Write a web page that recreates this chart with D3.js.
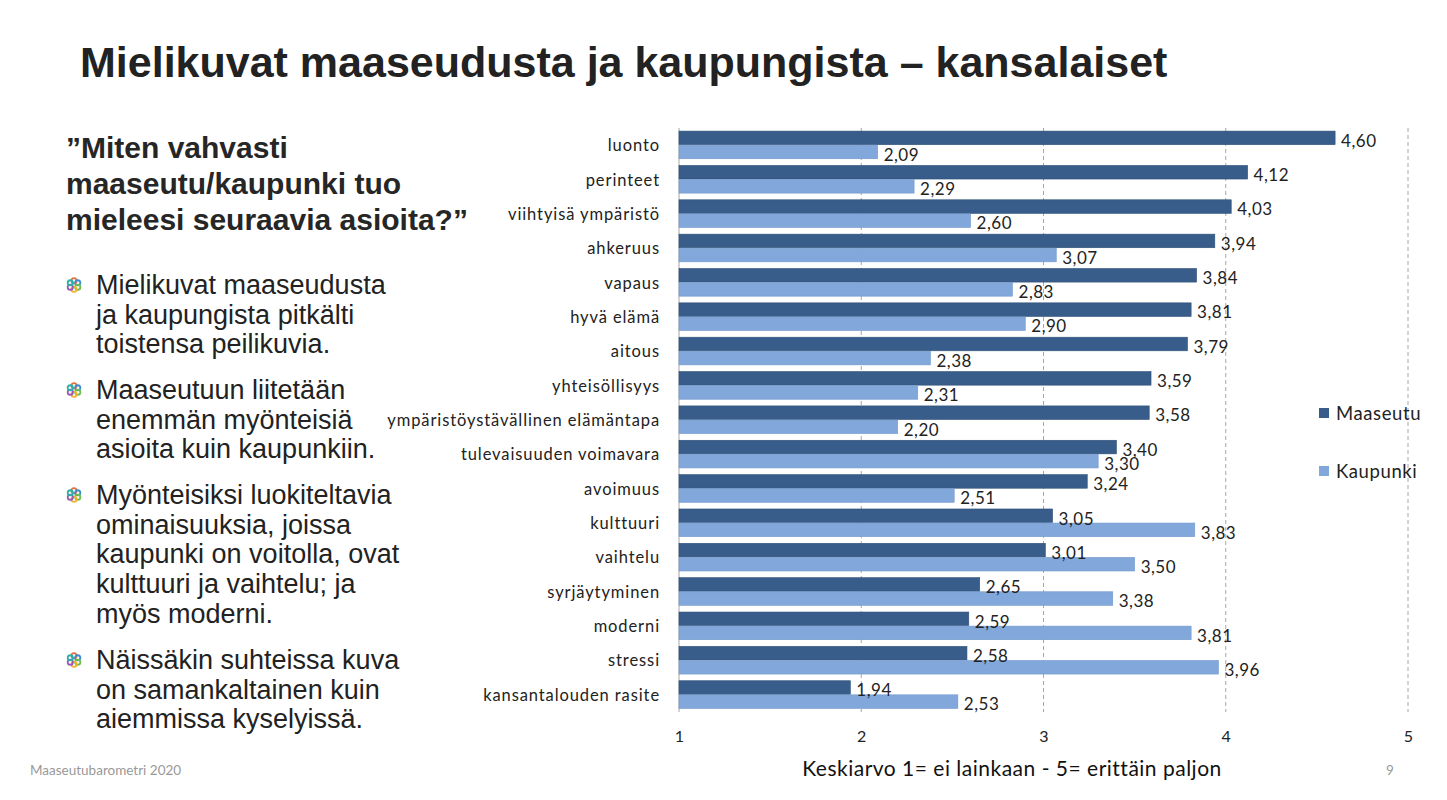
<!DOCTYPE html>
<html><head><meta charset="utf-8">
<script src="https://cdn.jsdelivr.net/npm/d3@7"></script>
<style>body{margin:0;background:#fff}svg{display:block}</style>
</head><body><svg id="c" width="1447" height="800"></svg>
<script>
const categories = ["luonto","perinteet","viihtyisä ympäristö","ahkeruus","vapaus","hyvä elämä","aitous","yhteisöllisyys","ympäristöystävällinen elämäntapa","tulevaisuuden voimavara","avoimuus","kulttuuri","vaihtelu","syrjäytyminen","moderni","stressi","kansantalouden rasite"];
const maaseutu = [4.60,4.12,4.03,3.94,3.84,3.81,3.79,3.59,3.58,3.40,3.24,3.05,3.01,2.65,2.59,2.58,1.94];
const kaupunki = [2.09,2.29,2.60,3.07,2.83,2.90,2.38,2.31,2.20,3.30,2.51,3.83,3.50,3.38,3.81,3.96,2.53];
const seriesNames = ["Maaseutu","Kaupunki"];
const xTicks = [1,2,3,4,5];
const title = "Mielikuvat maaseudusta ja kaupungista – kansalaiset";
const question = ["”Miten vahvasti","maaseutu/kaupunki tuo","mieleesi seuraavia asioita?”"];
const bullets = [["Mielikuvat maaseudusta","ja kaupungista pitkälti","toistensa peilikuvia."],["Maaseutuun liitetään","enemmän myönteisiä","asioita kuin kaupunkiin."],["Myönteisiksi luokiteltavia","ominaisuuksia, joissa","kaupunki on voitolla, ovat","kulttuuri ja vaihtelu; ja","myös moderni."],["Näissäkin suhteissa kuva","on samankaltainen kuin","aiemmissa kyselyissä."]];
const axisTitle = "Keskiarvo 1= ei lainkaan - 5= erittäin paljon";
const footer = "Maaseutubarometri 2020";
const pageNo = "9";

const colors = ["#385d8a","#81a7db"];
const svg = d3.select("#c");
const fmt = v => v.toFixed(2).replace(".", ",");
const cf = "Lato, Open Sans, sans-serif";

// title
svg.append("text").attr("x",80).attr("y",77).attr("font-family","Liberation Sans, Arial").attr("font-weight","bold").attr("font-size",43).attr("fill","#222").text(title);

// question
question.forEach((l,i)=>svg.append("text").attr("x",66).attr("y",158+i*36).attr("font-family","Liberation Sans, Arial").attr("font-weight","bold").attr("font-size",30).attr("fill","#262626").text(l));

// bullets
const bulletStarts=[294,399,504,669];
const icol=["#e8703a","#3d8ed0","#6fbf4a","#f3b233","#9b59b6","#2bb0a8"];
bullets.forEach((b,bi)=>{
  b.forEach((l,i)=>svg.append("text").attr("x",96).attr("y",bulletStarts[bi]+i*29.7).attr("font-family","Liberation Sans, Arial").attr("font-size",27).attr("fill","#222").text(l));
  const cy=bulletStarts[bi]-9, cx=74;
  for(let k=0;k<6;k++){const a=k*Math.PI/3-Math.PI/2;svg.append("circle").attr("cx",cx+4.3*Math.cos(a)).attr("cy",cy+4.3*Math.sin(a)).attr("r",2.6).attr("fill","none").attr("stroke",icol[k]).attr("stroke-width",1.8);}
});

// chart
const x = d3.scaleLinear().domain([1,5]).range([679,1408]);
const y = d3.scaleBand().domain(categories).range([128,712]).paddingInner(0.18).paddingOuter(0.09);
const ys = d3.scaleBand().domain(seriesNames).range([0,y.bandwidth()]);

const g=svg.append("g");
xTicks.forEach(t=>{
  g.append("line").attr("x1",x(t)).attr("x2",x(t)).attr("y1",128).attr("y2",712).attr("stroke","#a6a6a6").attr("stroke-width",1).attr("stroke-dasharray",t===1?null:"4,3");
});
const xAxis=d3.axisBottom(x).tickValues(xTicks).tickSize(0).tickPadding(0).tickFormat(d3.format("d"));
const ax=svg.append("g").attr("transform","translate(0,731)").call(xAxis);
ax.select(".domain").remove();
ax.selectAll("text").attr("font-family",cf).attr("font-size",16).attr("fill","#222");

const data=categories.map((c,i)=>({c,vals:[maaseutu[i],kaupunki[i]]}));
const rows=g.selectAll(".row").data(data).join("g").attr("transform",d=>`translate(0,${y(d.c)})`);
rows.selectAll("rect").data(d=>d.vals.map((v,k)=>({v,k}))).join("rect")
  .attr("x",x(1)).attr("y",d=>ys(seriesNames[d.k])).attr("height",ys.bandwidth()-0.5)
  .attr("width",d=>x(d.v)-x(1)).attr("fill",d=>colors[d.k]).attr("stroke",d=>d.k===0?"#2f5079":"#7399cc").attr("stroke-width",0.6);
rows.selectAll("text.v").data(d=>d.vals.map((v,k)=>({v,k}))).join("text").attr("class","v")
  .attr("x",d=>x(d.v)+6).attr("y",d=>ys(seriesNames[d.k])+ys.bandwidth()/2+8.5)
  .attr("font-family",cf).attr("font-size",17).attr("letter-spacing",0.5).attr("fill","#222").text(d=>fmt(d.v));
rows.append("text").attr("x",660).attr("y",y.bandwidth()/2+6).attr("text-anchor","end")
  .attr("font-family",cf).attr("font-size",16.5).attr("letter-spacing",0.9).attr("fill","#222").text(d=>d.c);

// legend
const legY=[413,471];
seriesNames.forEach((s,i)=>{
  svg.append("rect").attr("x",1319).attr("y",legY[i]-5).attr("width",10).attr("height",10).attr("fill",colors[i]);
  svg.append("text").attr("x",1336).attr("y",legY[i]+6.5).attr("font-family",cf).attr("font-size",18.5).attr("letter-spacing",0.6).attr("fill","#222").text(s);
});

svg.append("text").attr("x",1012).attr("y",776).attr("text-anchor","middle").attr("font-family",cf).attr("font-size",21).attr("letter-spacing",0.5).attr("fill","#111").text(axisTitle);
svg.append("text").attr("x",30).attr("y",775).attr("font-family",cf).attr("font-size",13.5).attr("fill","#999").text(footer);
svg.append("text").attr("x",1386).attr("y",775).attr("font-family",cf).attr("font-size",13.5).attr("fill","#999").text(pageNo);
</script></body></html>
